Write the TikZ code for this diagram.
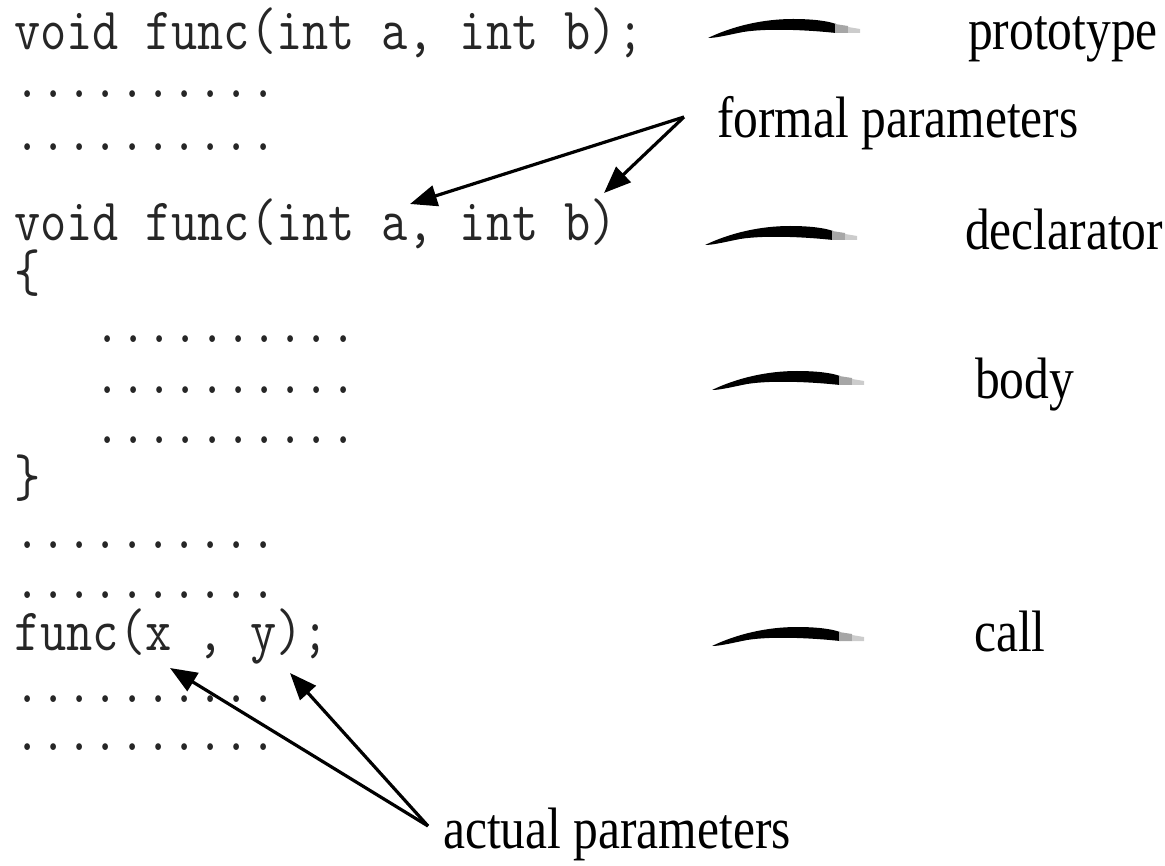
\documentclass[tikz,border=0pt]{standalone}
\usepackage{fontspec}
\usepackage{graphicx}
\setmainfont{Liberation Serif}
\usetikzlibrary{arrows.meta}
\newcommand\cdfont{\ttfamily\fontsize{50.9pt}{60pt}\selectfont}
\newcommand\lbfont{\rmfamily\fontsize{49.5pt}{58pt}\selectfont}
\newcommand\sy[1]{\scalebox{1}[1.18]{#1}}
\begin{document}
\begin{tikzpicture}[x=1pt,y=-1pt,
  code/.style={anchor=base west, inner sep=0pt, font=\cdfont, text=black!85},
  lab/.style={anchor=base west, inner sep=0pt, font=\lbfont},
  ptr/.style={line width=3.2pt, -{Triangle[length=27pt,width=21pt]}},
  swoosh/.pic={
    \fill (0,0) .. controls (25,-12) and (55,-19) .. (85,-19)
      .. controls (105,-19) and (120,-17) .. (128,-14) -- (128,-5)
      .. controls (100,-8) and (60,-10) .. (35,-6)
      .. controls (20,-3) and (8,0) .. (0,0) -- cycle;
    \fill[gray!70] (127,-14) -- (140,-12) -- (140,-5) -- (127,-5) -- cycle;
    \fill[gray!40] (140,-11) -- (152,-9) -- (152,-5) -- (140,-5) -- cycle;
  }]
\useasboundingbox (0,0) rectangle (1165,866);
% code column
\node[code] (l1)  at (14,50)  {\sy{void func(int a, int b);}};
\node[code] (l2)  at (14,98)  {\sy{..........}};
\node[code] (l3)  at (14,151) {\sy{..........}};
\node[code] (l4)  at (14,241) {\sy{void func(int a, int b)}};
\node[code] (l5)  at (14,292) {\sy{\{}};
\node[code] (l6)  at (94,343) {\sy{..........}};
\node[code] (l7)  at (94,394) {\sy{..........}};
\node[code] (l8)  at (94,444) {\sy{..........}};
\node[code] (l9)  at (14,496) {\sy{\}}};
\node[code] (l10) at (14,548) {\sy{..........}};
\node[code] (l11) at (14,598) {\sy{..........}};
\node[code] (l12) at (14,650) {\sy{func(x , y);}};
\node[code] (l13) at (14,702) {\sy{..........}};
\node[code] (l14) at (14,750) {\sy{..........}};
% brush strokes
\pic at (708,38)  {swoosh};
\pic at (705,245) {swoosh};
\pic at (712,390) {swoosh};
\pic at (712,646) {swoosh};
% labels
\node[lab] (proto) at (968,50)  {\sy{prototype}};
\node[lab] (formal) at (717,138) {\sy{formal parameters}};
\node[lab] (decl)  at (965,250) {\sy{declarator}};
\node[lab] (body)  at (975,399) {\sy{body}};
\node[lab] (call)  at (974,651) {\sy{call}};
\node[lab] (actual) at (443,848) {\sy{actual parameters}};
% arrows
\coordinate (fa) at (684,117);
\coordinate (ta) at (410,204);
\coordinate (tb) at (604,193);
\draw[ptr] (fa) -- (ta);
\draw[ptr] (fa) -- (tb);
\coordinate (aa) at (428,826);
\coordinate (tx) at (170,668);
\coordinate (tyy) at (290,673);
\draw[ptr] (aa) -- (tx);
\draw[ptr] (aa) -- (tyy);
\end{tikzpicture}
\end{document}
